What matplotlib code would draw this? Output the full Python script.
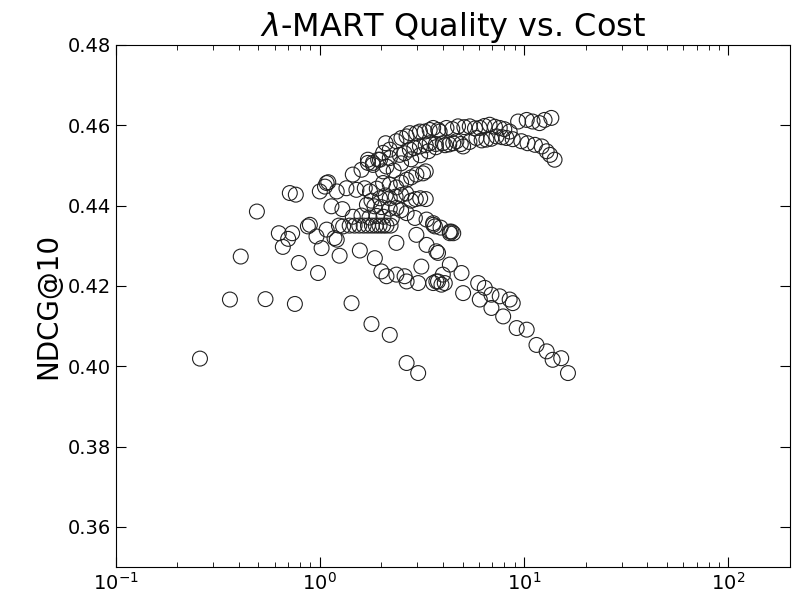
import matplotlib
matplotlib.use('Agg')
import matplotlib.pyplot as plt

plt.rcParams['axes.unicode_minus'] = False

# cost (x) and NDCG@10 (y), grouped by visual branch
sparse_x = [0.259, 0.363, 0.41, 0.492, 0.542, 0.63, 0.659, 0.70, 0.713, 0.732, 0.755, 0.763, 0.789]
sparse_y = [0.4019, 0.4166, 0.4273, 0.4385, 0.4167, 0.4331, 0.4297, 0.4317, 0.4431, 0.4331, 0.4155, 0.4427, 0.4257]

left_x = [0.874, 0.894, 0.963, 1.08, 1.18, 1.24, 1.14, 1.29, 1.10]
left_y = [0.4348, 0.4352, 0.4323, 0.434, 0.4319, 0.435, 0.4398, 0.4391, 0.4458]

top_x = [1.0, 1.06, 1.08, 1.21, 1.35, 1.51, 1.66, 1.72, 1.82, 1.93, 2.04, 2.1, 2.2, 2.37, 2.51,
         2.66, 2.76, 2.97, 3.09, 3.26, 3.45, 3.59, 3.8, 3.86, 4.17, 4.45, 4.75, 5.1, 5.42, 5.75,
         6.07, 6.4, 6.78, 7.2, 7.6, 8.0, 8.5, 9.35, 10.3, 11.0, 11.9, 12.6, 13.6]
top_y = [0.4435, 0.4447, 0.4456, 0.4435, 0.4443, 0.4439, 0.4443, 0.4514, 0.4501, 0.4514, 0.4531, 0.4555,
         0.4539, 0.456, 0.4568, 0.4572, 0.458, 0.458, 0.4584, 0.4584, 0.4588, 0.4593, 0.4588, 0.4584,
         0.4593, 0.459, 0.4597, 0.4595, 0.4597, 0.4592, 0.4593, 0.4598, 0.4601, 0.4596, 0.4593, 0.459,
         0.4584, 0.4609, 0.4613, 0.4609, 0.4605, 0.4613, 0.4618]

second_x = [1.45, 1.6, 1.72, 1.82, 1.97, 2.12, 2.2, 2.46, 2.6, 2.76, 2.9, 3.09, 3.3, 3.45, 3.7, 4.0,
            4.3, 4.66, 5.03, 5.4, 5.84, 6.2, 6.54, 6.9, 7.33, 7.8, 8.2, 8.8, 9.7, 10.4, 11.3, 12.2,
            12.9, 13.4, 14.1]
second_y = [0.4477, 0.4489, 0.4506, 0.4506, 0.4514, 0.4497, 0.4518, 0.4526, 0.453, 0.4539, 0.4543,
            0.4547, 0.455, 0.4555, 0.4553, 0.4555, 0.4552, 0.456, 0.4547, 0.4558, 0.4568, 0.4562,
            0.4564, 0.4566, 0.4572, 0.457, 0.4568, 0.4565, 0.456, 0.4555, 0.4551, 0.4547, 0.4535,
            0.4526, 0.4514]

third_x = [2.04, 2.3, 2.5, 2.8, 3.1, 3.4, 3.7, 4.1, 4.5, 4.9]
third_y = [0.4485, 0.4487, 0.4505, 0.4515, 0.4525, 0.4535, 0.4545, 0.455, 0.4555, 0.4553]

mid_x = [1.76, 1.9, 2.04, 2.2, 2.37, 2.5, 2.66, 2.8, 2.97, 3.2, 3.3]
mid_y = [0.4435, 0.4442, 0.4456, 0.4452, 0.4445, 0.4457, 0.4464, 0.447, 0.4477, 0.448, 0.4485]

row442_x = [1.79, 1.97, 2.1, 2.2, 2.35, 2.5, 2.65, 2.8, 2.95, 3.1, 3.3]
row442_y = [0.4412, 0.4418, 0.4425, 0.4418, 0.4422, 0.4426, 0.443, 0.4412, 0.4416, 0.4418, 0.4416]

desc_x = [1.7, 1.85, 2.0, 2.2, 2.37, 2.5, 2.66, 2.92, 3.33, 3.59, 3.9, 4.33, 4.5]
desc_y = [0.4402, 0.4398, 0.4396, 0.4392, 0.4394, 0.4388, 0.4381, 0.4369, 0.4365, 0.4352, 0.4345,
          0.4335, 0.4331]

row437_x = [1.45, 1.6, 1.75, 1.9, 2.05, 2.25]
row437_y = [0.4372, 0.4375, 0.437, 0.4374, 0.4372, 0.4368]

row435_x = [1.3, 1.4, 1.48, 1.56, 1.64, 1.72, 1.8, 1.88, 1.96, 2.04, 2.12, 2.22]
row435_y = [0.4348, 0.435, 0.435, 0.435, 0.435, 0.435, 0.435, 0.435, 0.435, 0.435, 0.435, 0.435]

lower_x = [0.98, 1.02, 1.21, 1.25, 1.57, 1.86, 2.0, 2.12, 2.37, 2.6, 2.66, 3.03, 3.14, 3.59, 3.72,
           3.79, 3.94, 4.0, 4.09, 2.37, 2.97, 3.33, 3.72, 3.79, 4.33, 4.94, 3.59, 3.66, 4.33, 4.41,
           5.03, 5.96, 6.07, 6.42, 6.92, 6.92, 7.6, 7.9, 8.5, 8.8, 9.2, 10.3, 11.5, 12.9, 13.8,
           15.2, 16.4]
lower_y = [0.4232, 0.4294, 0.4315, 0.4275, 0.4288, 0.4269, 0.4236, 0.4224, 0.4228, 0.4224, 0.4211,
           0.4207, 0.4248, 0.4207, 0.4211, 0.4211, 0.4203, 0.4228, 0.4207, 0.4307, 0.4327, 0.4302,
           0.4286, 0.4282, 0.4253, 0.4232, 0.4356, 0.4348, 0.4331, 0.4335, 0.4182, 0.4207, 0.4166,
           0.4195, 0.4178, 0.4145, 0.4174, 0.4124, 0.4166, 0.4157, 0.4095, 0.4091, 0.4053, 0.4037,
           0.4016, 0.402, 0.3983]

bottom_x = [1.43, 1.79, 2.2, 2.66, 3.03]
bottom_y = [0.4157, 0.4105, 0.4078, 0.4008, 0.3983]

groups = [(sparse_x, sparse_y), (left_x, left_y), (top_x, top_y), (second_x, second_y),
          (third_x, third_y), (mid_x, mid_y), (row442_x, row442_y), (desc_x, desc_y),
          (row437_x, row437_y), (row435_x, row435_y), (lower_x, lower_y), (bottom_x, bottom_y)]
xs = [v for g in groups for v in g[0]]
ys = [v for g in groups for v in g[1]]

fig = plt.figure(figsize=(7.97, 5.97), dpi=100)
ax = fig.add_subplot(111)
fig.subplots_adjust(left=0.145, right=0.991, top=0.925, bottom=0.05)

ax.scatter(xs, ys, s=115, facecolors='none', edgecolors='#222222', linewidths=0.8)

ax.set_xscale('log')
ax.set_xlim(0.1, 200)
ax.set_ylim(0.35, 0.48)
ax.set_yticks([0.36, 0.38, 0.40, 0.42, 0.44, 0.46, 0.48])
ax.yaxis.set_major_formatter(matplotlib.ticker.FormatStrFormatter('%.2f'))

ax.tick_params(which='both', direction='in', top=True, right=True, labelsize=14)
ax.tick_params(which='major', length=7)
ax.tick_params(which='minor', length=3.5)

ax.set_title(r'$\lambda$-MART Quality vs. Cost', fontsize=23)
ax.set_ylabel('NDCG@10', fontsize=20)

plt.savefig('out.png', dpi=100)
